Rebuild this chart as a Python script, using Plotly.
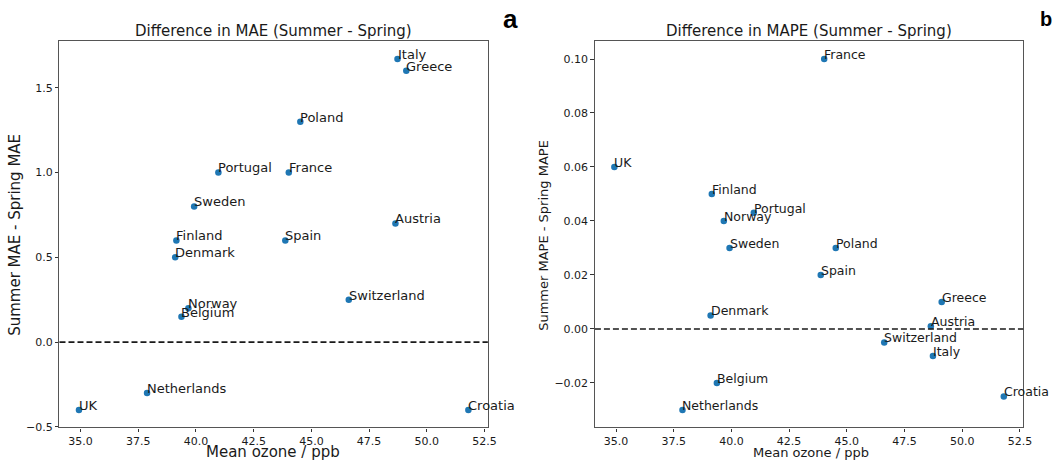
import plotly.graph_objects as go

# Country-level seasonal error differences against mean ozone
countries = ["UK", "Netherlands", "Denmark", "Finland", "Belgium", "Norway", "Sweden",
             "Portugal", "Spain", "France", "Poland", "Switzerland", "Austria", "Italy",
             "Greece", "Croatia"]
mean_ozone = [34.93, 37.88, 39.10, 39.15, 39.37, 39.67, 39.92,
              40.97, 43.87, 44.02, 44.52, 46.62, 48.64, 48.73,
              49.11, 51.80]
mae_diff = [-0.40, -0.30, 0.50, 0.60, 0.15, 0.20, 0.80,
            1.00, 0.60, 1.00, 1.30, 0.25, 0.70, 1.67,
            1.60, -0.40]
mape_diff = [0.060, -0.030, 0.005, 0.050, -0.020, 0.040, 0.030,
             0.043, 0.020, 0.100, 0.030, -0.005, 0.001, -0.010,
             0.010, -0.025]

x_ticks = [35.0, 37.5, 40.0, 42.5, 45.0, 47.5, 50.0, 52.5]
mae_ticks = [-0.5, 0.0, 0.5, 1.0, 1.5]
mape_ticks = [-0.02, 0.00, 0.02, 0.04, 0.06, 0.08, 0.10]

W, H = 1063, 469
FONT = "DejaVu Sans"
TXT = "#1a1a1a"
BLUE = "#1f77b4"


def padded(vals, frac=0.05):
    lo, hi = min(vals), max(vals)
    span = hi - lo
    return [lo - frac * span, hi + frac * span]


def px_x(p):
    return p / W


def px_y(p):
    return (H - p) / H


fig = go.Figure()

panels = [
    dict(xa="x", ya="y", vals=mae_diff, fs=13),
    dict(xa="x2", ya="y2", vals=mape_diff, fs=12.5),
]

annotations = []
for pnl in panels:
    fig.add_trace(go.Scatter(
        x=mean_ozone, y=pnl["vals"], mode="markers",
        marker=dict(color=BLUE, size=6.5, line=dict(width=0)),
        xaxis=pnl["xa"], yaxis=pnl["ya"], showlegend=False, hoverinfo="skip",
    ))
    # zero reference line across the panel
    fig.add_shape(type="line", xref=pnl["xa"] + " domain", yref=pnl["ya"],
                  x0=0, x1=1, y0=0, y1=0,
                  line=dict(color=TXT, width=1.6, dash="6px,3px"))
    for name, xv, yv in zip(countries, mean_ozone, pnl["vals"]):
        annotations.append(dict(
            x=xv, y=yv, xref=pnl["xa"], yref=pnl["ya"], text=name,
            showarrow=False, xanchor="left", yanchor="middle",
            xshift=-2, yshift=0.36 * pnl["fs"],
            font=dict(family=FONT, size=pnl["fs"], color=TXT),
        ))

axis_common = dict(
    showline=True, linecolor="#555", linewidth=1.2, mirror=True,
    showgrid=False, zeroline=False, ticks="outside", ticklen=3.5,
    tickwidth=1, tickcolor="#333",
    tickfont=dict(family=FONT, size=11, color=TXT),
)

x_range = padded(mean_ozone)
fig.update_layout(
    width=W, height=H,
    margin=dict(l=0, r=0, t=0, b=0),
    paper_bgcolor="white", plot_bgcolor="white",
    xaxis=dict(domain=[px_x(60), px_x(492)], range=x_range,
               tickvals=x_ticks, ticktext=[f"{v:.1f}" for v in x_ticks],
               anchor="y", **axis_common),
    yaxis=dict(domain=[px_y(433), px_y(42)], range=padded(mae_diff),
               tickvals=mae_ticks,
               ticktext=[f"{v:.1f}".replace("-", "\u2212") for v in mae_ticks],
               anchor="x", **axis_common),
    xaxis2=dict(domain=[px_x(600), px_x(1032)], range=x_range,
                tickvals=x_ticks, ticktext=[f"{v:.1f}" for v in x_ticks],
                anchor="y2", **axis_common),
    yaxis2=dict(domain=[px_y(433), px_y(42)], range=padded(mape_diff),
                tickvals=mape_ticks,
                ticktext=[f"{v:.2f}".replace("-", "\u2212") for v in mape_ticks],
                anchor="x2", **axis_common),
)

# panel titles, axis titles and panel letters (all kept inside the page)
texts = [
    ("Difference in MAE (Summer - Spring)", 276, 31.5, 15, 0, "center", "middle"),
    ("Difference in MAPE (Summer - Spring)", 816, 31.5, 15, 0, "center", "middle"),
    ("Mean ozone / ppb", 275, 469, 15, 0, "center", "bottom"),
    ("Mean ozone / ppb", 818, 468, 13, 0, "center", "bottom"),
    ("Summer MAE - Spring MAE", 15, 238, 15, -90, "center", "middle"),
    ("Summer MAPE - Spring MAPE", 548.5, 238, 13, -90, "center", "middle"),
]
for t, xp, yp, fs, ang, xa, ya in texts:
    annotations.append(dict(
        x=px_x(xp), y=px_y(yp), xref="paper", yref="paper",
        text=t, showarrow=False, xanchor=xa, yanchor=ya, textangle=ang,
        font=dict(family=FONT, size=fs, color=TXT),
    ))
for letter, xp, fs, xa in [("a", 515, 26, "center"), ("b", 1063, 20, "right")]:
    annotations.append(dict(
        x=px_x(xp), y=px_y(19.5), xref="paper", yref="paper",
        text=f"<b>{letter}</b>", showarrow=False, xanchor=xa, yanchor="middle",
        font=dict(family="Liberation Sans", size=fs, color="black"),
    ))

fig.update_layout(annotations=annotations)
fig.write_html("out.html")
